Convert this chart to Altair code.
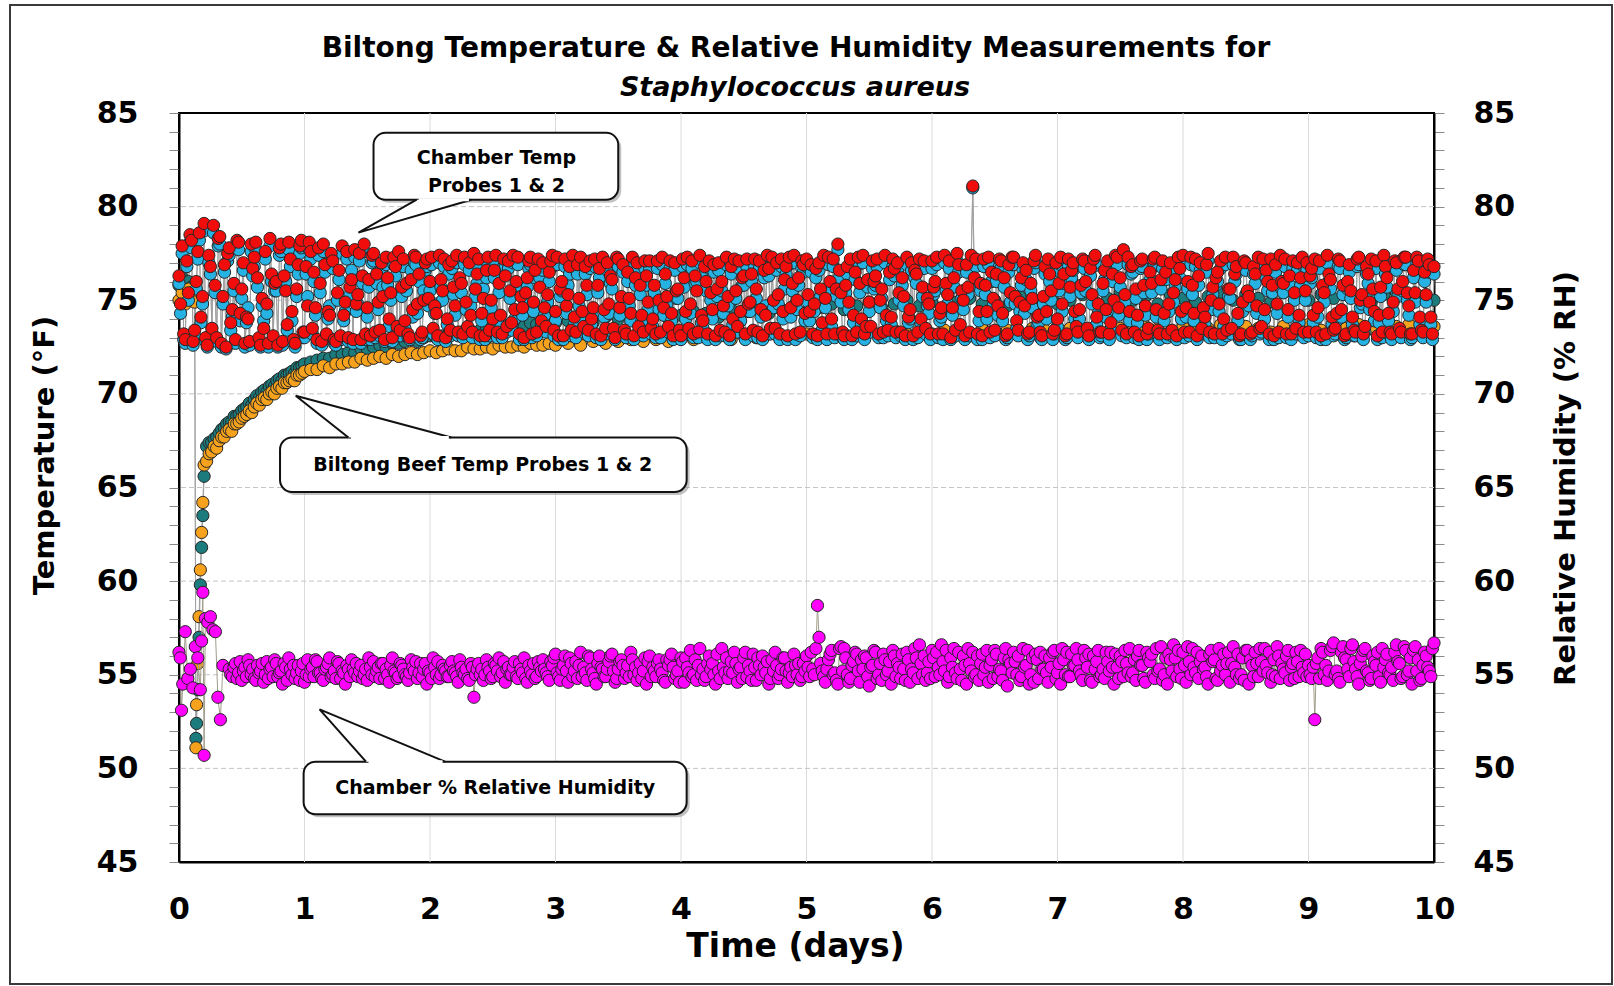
import altair as alt
import numpy as np
import pandas as pd

FONT = "DejaVu Sans"

# ---------------- data ----------------
# Chamber temperature probes: readings every 0.0125 day.
# "_a" lists hold the readings at 0, 0.025, 0.05 ... ; "_b" lists the readings in between.
CHAMBER_STEP = 0.0125
chamber_probe2_red_a = [
    76.3, 77.9, 72.9, 75.4, 78.2, 73.4, 77.6, 74.1, 79.1, 72.6,
    76.8, 79.0, 73.0, 78.4, 75.2, 72.5, 77.8, 74.5, 72.9, 78.1,
    75.6, 72.7, 74.0, 78.0, 77.3, 76.2, 72.6, 73.5, 74.8, 78.3,
    73.1, 76.0, 77.8, 72.8, 75.5, 78.1, 74.4, 72.7, 76.9, 78.2,
    73.3, 74.7, 77.6, 76.5, 72.9, 75.9, 78.0, 73.2, 74.2, 77.1,
    72.8, 76.6, 77.9, 74.9, 73.0, 76.1, 77.7, 75.3, 72.9, 78.0,
    74.6, 73.1, 77.5, 76.4, 73.4, 75.2, 77.3, 74.0, 73.0, 76.8,
    77.6, 75.7, 73.9, 73.2, 76.1, 77.4, 74.8, 73.1, 75.0, 77.2,
    76.0, 73.5, 74.3, 77.4, 75.5, 73.0, 76.9, 77.1, 74.7, 73.3,
    75.9, 77.3, 73.6, 74.2, 77.5, 76.4, 73.1, 75.1, 76.6, 73.4,
    74.0, 77.4, 75.9, 73.2, 76.3, 77.1, 73.8, 74.5, 77.3, 75.2,
    73.0, 76.2, 77.3, 74.9, 73.3, 75.7, 77.0, 73.6, 76.5, 77.4,
    74.4, 73.1, 76.0, 77.2, 75.3, 73.4, 74.1, 76.9, 77.3, 73.6,
    75.8, 77.1, 74.6, 73.2, 76.7, 77.3, 73.5, 74.8, 76.1, 73.0,
    77.2, 75.2, 73.4, 76.5, 74.3, 73.1, 77.0, 75.8, 73.3, 76.3,
    77.1, 74.0, 73.2, 75.0, 77.3, 76.4, 73.6, 74.3, 77.0, 75.6,
    73.1, 76.2, 77.3, 74.8, 73.2, 75.5, 77.4, 73.9, 76.0, 77.1,
    74.5, 73.1, 77.0, 76.0, 73.3, 75.2, 76.8, 77.2, 73.6, 74.4,
    76.3, 77.2, 74.9, 73.4, 75.6, 77.1, 73.1, 74.2, 76.7, 77.3,
    73.5, 75.3, 77.2, 76.1, 73.1, 74.6, 77.4, 75.0, 73.3, 76.9,
    77.2, 74.4, 73.2, 76.7, 77.0, 73.8, 75.1, 77.3, 74.0, 73.2,
    78.0, 75.4, 73.1, 76.8, 77.2, 74.2, 73.3, 75.9, 77.4, 73.6,
    74.9, 77.1, 76.3, 73.2, 75.6, 77.4, 73.4, 74.1, 76.7, 77.0,
    73.3, 75.2, 77.3, 74.5, 73.1, 76.4, 77.2, 75.7, 73.5, 74.8,
    77.1, 76.0, 73.2, 74.6, 77.4, 75.3, 73.0, 76.2, 77.5, 73.7,
    75.0, 76.9, 73.3, 81.1, 77.2, 74.4, 73.1, 75.8, 77.3, 76.5,
    73.4, 74.7, 77.1, 76.2, 73.2, 75.4, 77.3, 73.9, 74.9, 77.0,
    76.6, 73.3, 75.1, 77.4, 74.2, 73.1, 76.8, 77.2, 75.5, 73.4,
    74.0, 77.3, 76.4, 73.2, 75.7, 77.0, 73.6, 74.5, 77.2, 76.0,
    73.1, 75.3, 77.4, 74.8, 73.3, 76.6, 77.1, 73.8, 75.0, 77.3,
    76.2, 77.7, 73.2, 74.4, 76.9, 75.6, 73.1, 77.2, 74.7, 73.5,
    75.9, 77.3, 73.4, 76.1, 74.3, 73.2, 77.0, 75.4, 73.1, 76.7,
    77.4, 74.6, 73.3, 75.8, 77.2, 76.3, 73.5, 74.1, 77.5, 75.0,
    73.2, 76.5, 77.1, 74.0, 73.4, 75.6, 77.3, 76.8, 73.1, 74.9,
    77.0, 75.2, 73.3, 76.4, 77.3, 73.6, 74.5, 76.0, 77.2, 73.1,
    74.8, 77.4, 75.9, 73.2, 76.3, 77.1, 73.5, 74.2, 77.3, 75.5,
    73.3, 76.7, 77.2, 74.6, 73.1, 75.4, 77.4, 76.1, 73.4, 74.3,
    77.1, 75.8, 73.2, 76.9, 74.1, 73.3, 77.3, 75.3, 73.6, 76.4,
    77.2, 74.4, 73.1, 75.7, 77.4, 76.2, 73.3, 74.9, 77.0, 73.5,
    76.0, 77.3, 74.7, 73.2, 75.4, 77.1, 73.4, 76.5, 77.2, 74.1,
    76.8,
]
chamber_probe2_red_b = [
    74.8, 73.2, 77.1, 78.5, 72.8, 76.0, 78.6, 75.2, 73.0, 77.4,
    73.5, 75.8, 78.3, 72.7, 76.9, 77.5, 73.8, 75.9, 78.2, 74.3,
    77.0, 74.1, 72.8, 76.7, 78.1, 73.0, 75.1, 77.6, 72.7, 76.4,
    75.9, 72.6, 78.0, 76.3, 73.7, 77.2, 72.9, 75.6, 77.9, 73.3,
    76.8, 78.1, 73.5, 74.6, 77.8, 72.8, 76.9, 74.4, 77.5, 72.9,
    75.4, 73.1, 74.2, 77.6, 75.7, 72.9, 74.8, 77.5, 76.3, 73.2,
    76.1, 77.4, 73.3, 74.9, 77.0, 72.9, 76.2, 75.4, 77.3, 73.6,
    73.4, 77.2, 75.9, 73.0, 74.5, 77.3, 76.4, 73.3, 77.0, 75.1,
    77.3, 74.7, 73.1, 76.1, 77.2, 74.0, 73.4, 75.7, 77.4, 76.2,
    73.2, 74.9, 77.0, 73.3, 75.6, 77.2, 74.3, 73.1, 77.3, 75.0,
    76.6, 73.3, 74.2, 77.2, 73.6, 75.5, 77.4, 76.0, 73.2, 74.6,
    75.4, 77.1, 73.2, 76.6, 77.2, 73.9, 74.6, 75.3, 77.1, 73.4,
    77.3, 75.6, 73.1, 74.7, 76.8, 77.4, 73.3, 75.1, 74.4, 76.8,
    73.4, 74.0, 77.2, 75.8, 73.1, 74.5, 77.0, 76.3, 73.5, 77.3,
    74.6, 76.9, 73.2, 75.1, 77.3, 76.2, 73.6, 74.2, 77.1, 74.9,
    73.5, 75.8, 77.1, 73.3, 74.6, 75.2, 77.1, 73.1, 75.5, 73.4,
    77.2, 74.4, 73.5, 77.1, 76.3, 73.3, 74.2, 76.8, 73.2, 75.4,
    76.9, 75.6, 73.4, 74.7, 77.3, 73.1, 74.0, 75.5, 77.1, 76.2,
    73.2, 74.8, 76.4, 77.2, 73.3, 74.5, 76.6, 77.4, 73.5, 75.0,
    77.0, 73.2, 74.4, 76.8, 77.3, 75.9, 73.2, 76.2, 77.1, 74.3,
    75.3, 76.9, 74.8, 73.1, 75.6, 77.4, 73.2, 76.0, 77.2, 75.6,
    76.6, 73.3, 75.8, 74.9, 73.1, 76.5, 77.3, 74.0, 73.2, 76.1,
    73.6, 76.0, 77.2, 75.0, 73.3, 74.2, 76.5, 77.2, 73.3, 75.4,
    76.2, 73.1, 74.1, 77.0, 76.6, 73.3, 74.0, 77.1, 75.1, 73.2,
    75.7, 77.3, 74.3, 73.2, 75.9, 77.1, 74.6, 73.4, 76.9, 75.5,
    73.1, 75.7, 77.4, 76.2, 73.2, 75.9, 77.2, 74.4, 73.3, 75.1,
    76.4, 77.2, 74.3, 73.1, 76.9, 77.3, 75.2, 73.4, 76.2, 74.7,
    73.2, 75.9, 77.1, 74.1, 73.3, 75.2, 74.4, 76.4, 73.2, 77.0,
    75.9, 74.8, 73.1, 77.2, 76.6, 74.4, 73.3, 75.8, 77.1, 73.5,
    76.7, 77.2, 74.1, 73.3, 75.9, 74.5, 73.2, 76.4, 77.4, 74.6,
    73.4, 75.3, 77.3, 76.8, 73.3, 74.2, 77.1, 75.8, 73.2, 76.5,
    77.2, 74.5, 73.2, 77.1, 76.5, 74.8, 73.4, 76.1, 77.3, 74.4,
    73.3, 76.0, 77.3, 74.3, 73.1, 77.0, 74.6, 76.9, 73.3, 75.7,
    76.2, 74.8, 73.2, 77.3, 75.6, 73.5, 76.4, 74.3, 73.2, 77.1,
    75.5, 73.2, 76.8, 74.7, 73.5, 77.2, 76.6, 73.2, 75.8, 76.9,
    73.3, 76.0, 77.2, 74.5, 73.2, 75.4, 77.0, 76.2, 73.3, 77.0,
    76.3, 74.2, 73.3, 77.1, 75.8, 73.2, 76.4, 74.1, 73.5, 77.2,
    74.5, 73.1, 76.0, 75.5, 73.4, 77.2, 75.0, 73.2, 76.8, 74.9,
    75.6, 77.1, 74.2, 73.3, 76.8, 74.3, 73.2, 77.1, 75.6, 73.3,
    77.3, 75.4, 73.2, 76.6, 77.3, 74.1, 73.3, 75.3, 76.9, 73.2,
]
chamber_probe1_blue_a = [
    75.9, 77.5, 72.7, 75.0, 77.8, 73.1, 77.2, 73.8, 78.7, 72.5,
    76.4, 78.6, 72.8, 78.0, 74.8, 72.4, 77.4, 74.1, 72.7, 77.7,
    75.1, 72.5, 74.6, 77.6, 76.8, 75.7, 72.5, 73.9, 74.3, 77.9,
    72.9, 75.5, 77.4, 72.6, 76.0, 77.7, 73.9, 72.5, 76.4, 77.8,
    73.0, 75.2, 77.2, 76.0, 72.7, 75.4, 77.6, 73.0, 74.7, 76.7,
    72.6, 76.1, 77.5, 74.4, 72.8, 76.6, 77.3, 74.8, 72.7, 77.6,
    74.1, 72.9, 77.1, 75.9, 73.1, 75.7, 76.9, 73.6, 72.8, 76.3,
    77.2, 75.2, 73.5, 73.0, 76.6, 77.0, 74.3, 72.9, 75.5, 76.8,
    75.5, 73.2, 74.8, 77.0, 75.0, 72.8, 76.4, 76.7, 74.2, 73.1,
    75.4, 76.9, 73.3, 74.7, 77.1, 75.9, 72.9, 75.6, 76.2, 73.1,
    73.6, 77.0, 75.4, 73.0, 76.8, 76.7, 73.4, 74.0, 76.9, 75.7,
    72.9, 75.7, 76.9, 74.4, 73.1, 76.2, 76.6, 73.3, 76.0, 77.0,
    73.9, 72.9, 75.5, 76.8, 75.8, 73.1, 73.7, 76.4, 76.9, 73.3,
    75.3, 76.7, 74.1, 73.0, 76.2, 76.9, 73.2, 74.3, 75.6, 72.9,
    76.8, 74.7, 73.1, 76.0, 73.9, 72.9, 76.6, 75.3, 73.1, 75.8,
    76.7, 73.6, 73.0, 74.5, 76.9, 75.9, 73.3, 73.9, 76.6, 75.1,
    72.9, 75.7, 76.9, 74.3, 73.0, 76.0, 77.0, 73.5, 75.5, 76.7,
    74.0, 72.9, 76.6, 75.5, 73.1, 74.7, 76.4, 76.8, 73.3, 73.9,
    75.8, 76.8, 74.4, 73.1, 75.1, 76.7, 72.9, 74.7, 76.3, 76.9,
    73.2, 74.8, 76.8, 75.6, 72.9, 74.1, 77.0, 74.5, 73.1, 76.5,
    76.8, 73.9, 73.0, 76.2, 76.6, 73.4, 74.6, 76.9, 73.6, 73.0,
    77.7, 74.9, 72.9, 76.4, 76.8, 73.8, 73.1, 75.4, 77.0, 73.3,
    74.4, 76.7, 75.8, 73.0, 75.1, 77.0, 73.1, 73.7, 76.3, 76.6,
    73.1, 74.7, 76.9, 74.0, 72.9, 75.9, 76.8, 75.2, 73.2, 74.3,
    76.7, 75.5, 73.0, 74.1, 77.0, 74.8, 72.9, 75.7, 77.1, 73.4,
    74.5, 76.5, 73.1, 81.0, 76.8, 73.9, 72.9, 75.3, 76.9, 76.0,
    73.1, 74.2, 76.7, 75.7, 73.0, 74.9, 76.9, 73.5, 74.4, 76.6,
    76.1, 73.1, 74.6, 77.0, 73.8, 72.9, 76.4, 76.8, 75.0, 73.2,
    73.6, 76.9, 75.9, 73.0, 75.2, 76.6, 73.3, 74.0, 76.8, 75.5,
    72.9, 74.8, 77.0, 74.3, 73.1, 76.1, 76.7, 73.4, 74.5, 76.9,
    75.7, 77.4, 73.0, 73.9, 76.5, 75.1, 72.9, 76.8, 74.2, 73.2,
    75.4, 76.9, 73.1, 75.6, 73.9, 73.0, 76.6, 74.9, 72.9, 76.2,
    77.0, 74.1, 73.1, 75.3, 76.8, 75.8, 73.2, 73.7, 77.1, 74.5,
    73.0, 76.0, 76.7, 73.6, 73.1, 75.1, 76.9, 76.4, 72.9, 74.4,
    76.6, 74.7, 73.1, 75.9, 76.9, 73.3, 74.0, 75.5, 76.8, 72.9,
    74.3, 77.0, 75.4, 73.0, 75.8, 76.7, 73.2, 73.8, 76.9, 75.0,
    73.1, 76.2, 76.8, 74.1, 72.9, 74.9, 77.0, 75.6, 73.1, 73.9,
    76.7, 75.3, 73.0, 76.5, 73.7, 73.1, 76.9, 74.8, 73.3, 75.9,
    76.8, 73.9, 72.9, 75.2, 77.0, 75.7, 73.1, 74.4, 76.6, 73.2,
    75.5, 76.9, 74.2, 73.0, 74.9, 76.7, 73.1, 76.0, 76.8, 73.7,
    76.4,
]
chamber_probe1_blue_b = [
    74.3, 72.9, 76.8, 78.1, 72.6, 75.6, 78.2, 74.8, 72.8, 77.0,
    73.2, 75.4, 77.9, 72.5, 76.5, 77.1, 73.4, 75.5, 77.8, 73.9,
    76.6, 73.8, 72.6, 76.3, 77.7, 72.8, 74.7, 77.2, 72.5, 76.0,
    75.5, 72.5, 77.6, 75.9, 73.4, 76.8, 72.7, 75.2, 77.5, 73.0,
    76.4, 77.7, 73.2, 74.2, 77.4, 72.6, 76.5, 74.0, 77.1, 72.7,
    75.0, 72.9, 73.9, 77.2, 75.3, 72.7, 74.4, 77.1, 75.9, 72.9,
    75.7, 77.0, 73.0, 74.5, 76.6, 72.8, 75.8, 75.0, 76.9, 73.3,
    73.1, 76.8, 75.5, 72.9, 74.1, 76.9, 76.0, 73.0, 76.6, 74.7,
    76.9, 74.3, 72.9, 75.7, 76.8, 73.7, 73.1, 75.3, 77.0, 75.8,
    73.0, 74.5, 76.6, 73.0, 75.2, 76.8, 73.9, 72.9, 76.9, 74.6,
    76.2, 73.0, 73.8, 76.8, 73.3, 75.1, 77.0, 75.6, 72.9, 74.2,
    75.0, 76.7, 73.0, 76.2, 76.8, 73.6, 74.2, 74.9, 76.7, 73.1,
    76.9, 75.2, 72.9, 74.3, 76.4, 77.0, 73.0, 74.7, 74.0, 76.4,
    73.1, 73.7, 76.8, 75.4, 72.9, 74.1, 76.6, 75.9, 73.2, 76.9,
    74.2, 76.5, 73.0, 74.7, 76.9, 75.8, 73.3, 73.9, 76.7, 74.5,
    73.2, 75.4, 76.7, 73.0, 74.2, 74.8, 76.7, 72.9, 75.1, 73.1,
    76.8, 74.0, 73.2, 76.7, 75.9, 73.0, 73.8, 76.4, 72.9, 75.0,
    76.5, 75.2, 73.1, 74.3, 76.9, 72.9, 73.7, 75.1, 76.7, 75.8,
    72.9, 74.4, 76.0, 76.8, 73.0, 74.1, 76.2, 77.0, 73.2, 74.6,
    76.6, 72.9, 74.0, 76.4, 76.9, 75.5, 72.9, 75.8, 76.7, 73.9,
    74.9, 76.5, 74.4, 72.9, 75.2, 77.0, 72.9, 75.6, 76.8, 75.2,
    76.2, 73.0, 75.4, 74.5, 72.9, 76.1, 76.9, 73.7, 72.9, 75.7,
    73.3, 75.6, 76.8, 74.6, 73.0, 73.9, 76.1, 76.8, 73.0, 75.0,
    75.8, 72.9, 73.8, 76.6, 76.2, 73.0, 73.7, 76.7, 74.7, 72.9,
    75.3, 76.9, 73.9, 72.9, 75.5, 76.7, 74.2, 73.1, 76.5, 75.1,
    72.9, 75.3, 77.0, 75.8, 72.9, 75.5, 76.8, 74.0, 73.0, 74.7,
    76.0, 76.8, 73.9, 72.9, 76.5, 76.9, 74.8, 73.1, 75.8, 74.3,
    72.9, 75.5, 76.7, 73.7, 73.0, 74.8, 74.0, 76.0, 72.9, 76.6,
    75.5, 74.4, 72.9, 76.8, 76.2, 74.0, 73.0, 75.4, 76.7, 73.2,
    76.3, 76.8, 73.7, 73.0, 75.5, 74.1, 72.9, 76.0, 77.0, 74.2,
    73.1, 74.9, 76.9, 76.4, 73.0, 73.8, 76.7, 75.4, 72.9, 76.1,
    76.8, 74.1, 72.9, 76.7, 76.1, 74.4, 73.1, 75.7, 76.9, 74.0,
    73.0, 75.6, 76.9, 73.9, 72.9, 76.6, 74.2, 76.5, 73.0, 75.3,
    75.8, 74.4, 72.9, 76.9, 75.2, 73.2, 76.0, 73.9, 72.9, 76.7,
    75.1, 72.9, 76.4, 74.3, 73.2, 76.8, 76.2, 72.9, 75.4, 76.5,
    73.0, 75.6, 76.8, 74.1, 72.9, 75.0, 76.6, 75.8, 73.0, 76.6,
    75.9, 73.8, 73.0, 76.7, 75.4, 72.9, 76.0, 73.7, 73.2, 76.8,
    74.1, 72.9, 75.6, 75.1, 73.1, 76.8, 74.6, 72.9, 76.4, 74.5,
    75.2, 76.7, 73.8, 73.0, 76.4, 73.9, 72.9, 76.7, 75.2, 73.0,
    76.9, 75.0, 72.9, 76.2, 76.9, 73.7, 73.0, 74.9, 76.5, 72.9,
]

# Biltong beef probes: before insertion, the drop/rise, then three sampling spans
beef_pre_x = [0.0, 0.025, 0.05, 0.075, 0.1, 0.125]
beef_rise_x = [0.135, 0.14, 0.15, 0.16, 0.17, 0.18, 0.19, 0.20]
beef_c_start, beef_c_step = 0.22, 0.02
beef_d_start, beef_d_step = 1.05, 0.05
beef_e_start, beef_e_step = 3.1, 0.1

beef1_teal_pre = [75.8, 76.2, 75.5, 76.0, 75.7, 75.4]
beef1_teal_rise = [51.6, 52.4, 54.2, 57.0, 59.8, 61.8, 63.5, 65.6]
beef1_teal_c = [67.2, 67.4, 67.4, 67.6, 67.7, 67.9, 68.1, 68.2, 68.4, 68.5,
                68.5, 68.8, 68.8, 68.9, 69.1, 69.2, 69.3, 69.5, 69.4, 69.7,
                69.9, 69.8, 70.1, 70.2, 70.1, 70.4, 70.5, 70.4, 70.7, 70.8,
                70.7, 71.0, 71.0, 71.1, 71.2, 71.1, 71.4, 71.4, 71.5, 71.6]
beef1_teal_d = [71.7, 71.8, 71.9, 71.9, 72.1, 72.1, 72.2, 72.2, 72.4, 72.4,
                72.5, 72.6, 72.5, 72.7, 72.7, 72.8, 72.9, 72.8, 73.0, 73.1,
                73.0, 73.1, 73.2, 73.2, 73.3, 73.4, 73.3, 73.4, 73.5, 73.4,
                73.6, 73.5, 73.6, 73.7, 73.6, 73.8, 73.7, 73.8, 73.9, 73.8]
beef1_teal_e = [73.9, 74.0, 73.8, 74.1, 74.0, 74.2, 74.1, 74.3, 74.0, 74.2,
                74.4, 74.3, 74.1, 74.5, 74.4, 74.6, 74.3, 74.5, 74.7, 74.4,
                74.6, 74.8, 74.5, 74.7, 74.9, 74.6, 74.8, 75.0, 74.7, 74.9,
                74.6, 74.9, 75.1, 74.8, 75.0, 74.7, 75.2, 74.9, 75.1, 74.8,
                75.0, 75.3, 74.9, 75.1, 75.4, 75.0, 75.2, 74.8, 75.3, 75.1,
                74.9, 75.2, 75.4, 75.0, 75.3, 75.1, 74.9, 75.4, 75.2, 75.0,
                75.3, 75.1, 75.5, 75.2, 74.9, 75.3, 75.4, 75.1, 75.2, 75.0]

beef2_orange_pre = [75.0, 75.4, 74.8, 75.6, 75.2, 74.9]
beef2_orange_rise = [51.1, 53.4, 55.6, 58.1, 60.6, 62.6, 64.2, 66.2]
beef2_orange_c = [66.4, 66.8, 66.9, 67.2, 67.1, 67.5, 67.7, 67.7, 68.0, 68.1,
                  68.0, 68.4, 68.4, 68.5, 68.7, 68.8, 68.9, 69.1, 69.0, 69.3,
                  69.5, 69.4, 69.7, 69.8, 69.7, 70.0, 70.1, 70.0, 70.3, 70.4,
                  70.3, 70.6, 70.6, 70.7, 70.8, 70.7, 71.0, 71.0, 71.1, 71.2]
beef2_orange_d = [71.3, 71.3, 71.5, 71.4, 71.6, 71.6, 71.7, 71.7, 71.9, 71.8,
                  71.9, 72.0, 71.9, 72.1, 72.0, 72.1, 72.2, 72.1, 72.2, 72.3,
                  72.2, 72.3, 72.4, 72.3, 72.3, 72.5, 72.4, 72.4, 72.5, 72.4,
                  72.6, 72.5, 72.5, 72.6, 72.5, 72.7, 72.6, 72.6, 72.7, 72.6]
beef2_orange_e = [72.7, 72.6, 72.8, 72.7, 72.8, 72.9, 72.8, 72.9, 72.8, 73.0,
                  72.9, 73.0, 73.1, 72.9, 73.1, 73.0, 73.2, 73.1, 73.0, 73.2,
                  73.1, 73.3, 73.2, 73.1, 73.3, 73.2, 73.4, 73.2, 73.3, 73.2,
                  73.4, 73.3, 73.2, 73.5, 73.3, 73.4, 73.2, 73.5, 73.4, 73.3,
                  73.5, 73.4, 73.6, 73.3, 73.5, 73.4, 73.6, 73.5, 73.3, 73.6,
                  73.4, 73.5, 73.7, 73.4, 73.6, 73.5, 73.3, 73.6, 73.5, 73.7,
                  73.4, 73.6, 73.5, 73.7, 73.5, 73.4, 73.6, 73.7, 73.5, 73.6]

# Chamber relative humidity
rh_early_x = [0.00, 0.01, 0.02, 0.03, 0.05, 0.07, 0.09, 0.11, 0.13, 0.15, 0.17,
              0.18, 0.19, 0.20, 0.21, 0.23, 0.25, 0.27, 0.29, 0.31, 0.33, 0.35]
rh_early = [56.2, 55.9, 53.1, 54.5, 57.3, 54.8, 55.3, 54.3, 56.5, 55.9, 54.2,
            56.8, 59.4, 50.7, 58.0, 57.8, 58.1, 57.4, 57.3, 53.8, 52.6, 55.5]
# from day 0.4: readings every 0.0125 day ("_a" at 0.4, 0.425 ... ; "_b" in between)
rh_start, rh_step = 0.4, 0.0125
rh_main_a = [
    55.3, 54.9, 55.6, 55.1, 54.7, 55.4, 55.8, 55.0, 54.8, 55.5,
    55.2, 54.6, 55.7, 55.3, 54.9, 55.6, 55.1, 54.5, 55.4, 55.9,
    55.0, 54.8, 55.5, 55.2, 54.6, 55.8, 55.3, 54.9, 55.7, 55.1,
    54.7, 55.4, 55.9, 55.0, 54.8, 55.6, 55.2, 54.5, 55.3, 55.8,
    55.1, 54.9, 55.5, 55.0, 54.7, 55.4, 55.7, 55.2, 54.8, 55.6,
    55.3, 54.6, 55.9, 55.1, 54.9, 55.5, 55.0, 54.7, 55.8, 55.2,
    54.8, 55.6, 55.3, 54.5, 55.1, 55.9, 55.0, 54.8, 55.5, 55.2,
    54.9, 55.7, 55.1, 54.6, 55.4, 55.0, 54.8, 55.6, 53.8, 55.3,
    55.0, 54.7, 55.8, 55.2, 54.9, 55.5, 55.9, 55.1, 54.6, 55.4,
    55.0, 55.7, 54.8, 55.3, 55.9, 54.6, 55.2, 55.6, 54.9, 55.4,
    55.8, 55.1, 54.7, 55.5, 56.1, 54.9, 55.3, 56.0, 54.6, 55.6,
    55.2, 54.8, 56.2, 55.4, 54.7, 55.9, 55.1, 54.5, 56.0, 55.3,
    54.9, 55.7, 56.1, 54.6, 55.3, 55.8, 54.8, 55.5, 56.2, 55.0,
    54.7, 55.6, 55.2, 54.5, 56.0, 55.4, 54.9, 55.8, 55.1, 54.6,
    55.5, 56.1, 54.8, 55.2, 55.9, 54.6, 55.4, 56.3, 55.0, 54.7,
    56.4, 55.3, 54.9, 56.0, 55.6, 54.5, 55.2, 56.4, 55.1, 54.8,
    55.7, 56.2, 54.6, 55.4, 55.9, 54.9, 55.2, 56.1, 54.7, 55.5,
    56.0, 55.1, 54.5, 55.8, 56.2, 54.8, 55.3, 55.9, 54.6, 55.4,
    56.1, 55.0, 54.7, 55.6, 56.0, 54.9, 55.3, 56.4, 57.0, 55.2,
    54.6, 55.8, 56.3, 55.1, 54.5, 56.5, 56.4, 55.0, 54.8, 55.7,
    56.1, 54.6, 55.3, 55.9, 54.4, 55.5, 56.2, 55.0, 54.7, 55.8,
    55.2, 54.5, 56.0, 55.6, 54.8, 55.3, 56.2, 54.6, 55.1, 55.9,
    56.6, 55.0, 54.7, 55.7, 56.3, 54.9, 55.4, 56.6, 55.2, 54.6,
    55.9, 56.4, 54.8, 55.3, 56.0, 54.5, 55.6, 56.2, 55.0, 54.7,
    56.1, 55.4, 54.6, 55.8, 56.3, 54.9, 55.2, 55.9, 54.4, 55.6,
    56.2, 55.0, 54.7, 56.4, 55.5, 54.5, 55.9, 56.1, 54.8, 55.3,
    56.0, 54.6, 55.4, 56.3, 55.1, 54.5, 55.8, 56.2, 54.9, 55.5,
    56.4, 55.2, 54.7, 55.9, 56.1, 54.6, 55.3, 56.3, 55.0, 54.8,
    55.7, 56.2, 54.5, 55.4, 56.0, 54.9, 55.6, 56.4, 55.1, 54.7,
    56.3, 55.5, 54.6, 55.9, 56.1, 54.8, 55.2, 56.5, 55.0, 54.5,
    55.8, 56.6, 54.9, 55.3, 56.2, 54.6, 55.7, 56.4, 55.1, 54.8,
    56.0, 55.4, 54.5, 56.3, 55.8, 54.7, 55.2, 56.1, 55.6, 54.6,
    56.5, 55.0, 54.8, 55.9, 56.3, 54.5, 55.5, 56.2, 54.9, 55.7,
    56.4, 55.1, 54.6, 55.8, 56.5, 54.8, 55.3, 56.0, 54.7, 55.6,
    56.2, 54.9, 55.4, 56.1, 55.5, 54.8, 52.6, 55.9, 56.4, 55.0,
    54.7, 56.3, 56.7, 55.2, 54.6, 56.5, 55.8, 54.9, 56.6, 55.3,
    54.5, 56.0, 56.4, 55.1, 54.8, 55.7, 56.2, 54.6, 55.4, 56.1,
    55.0, 54.7, 56.6, 55.6, 54.9, 56.3, 55.2, 54.5, 56.5, 55.8,
    54.8, 56.2, 55.4, 54.9, 56.7,
]
rh_main_b = [
    55.0, 55.4, 54.8, 55.7, 55.2, 54.9, 55.5, 55.3, 54.7, 55.1,
    55.6, 55.0, 54.8, 55.4, 55.8, 54.9, 55.2, 55.6, 54.7, 55.3,
    55.5, 55.1, 54.7, 55.6, 55.0, 54.9, 55.4, 55.8, 55.1, 54.8,
    55.3, 55.6, 54.9, 55.2, 55.7, 54.8, 55.1, 55.5, 54.9, 55.3,
    55.6, 55.2, 54.8, 55.3, 55.9, 55.0, 54.9, 55.4, 55.6, 54.8,
    55.0, 55.5, 55.2, 54.8, 55.6, 55.3, 54.9, 55.1, 55.4, 55.7,
    55.1, 54.9, 55.6, 55.2, 54.8, 55.4, 55.7, 55.0, 55.3, 54.9,
    55.5, 55.2, 54.9, 55.8, 55.1, 55.3, 54.7, 55.4, 55.0, 55.6,
    55.3, 55.0, 55.4, 54.8, 55.6, 55.2, 54.9, 55.7, 55.3, 55.0,
    55.4, 54.9, 55.6, 55.1, 54.8, 55.5, 55.0, 54.8, 55.7, 55.2,
    55.3, 54.9, 55.7, 55.9, 55.1, 54.7, 55.5, 55.2, 55.9, 54.9,
    55.7, 55.5, 54.9, 55.1, 56.0, 55.3, 54.8, 55.6, 55.4, 54.9,
    55.3, 56.0, 55.2, 54.8, 55.7, 55.5, 55.1, 54.9, 55.8, 55.4,
    55.1, 54.8, 55.9, 55.7, 54.9, 55.2, 55.6, 55.3, 54.7, 55.8,
    55.8, 55.4, 55.0, 54.6, 55.7, 55.9, 55.1, 54.9, 55.8, 55.5,
    55.0, 54.7, 55.6, 55.3, 55.0, 56.1, 54.8, 55.4, 55.9, 55.2,
    55.1, 55.6, 55.3, 54.8, 56.2, 55.5, 54.7, 55.4, 55.9, 55.0,
    55.4, 55.7, 54.8, 55.2, 55.5, 55.0, 55.9, 55.2, 55.1, 54.9,
    55.5, 55.6, 54.9, 55.2, 55.4, 56.2, 55.0, 58.7, 55.6, 54.9,
    55.3, 56.1, 55.0, 54.7, 56.4, 55.2, 55.9, 54.6, 55.5, 56.2,
    55.2, 55.8, 56.0, 54.9, 55.4, 56.3, 54.8, 55.6, 56.1, 55.0,
    55.7, 56.3, 54.9, 55.4, 56.1, 54.7, 55.8, 55.3, 56.4, 54.8,
    55.6, 56.0, 55.1, 54.8, 55.9, 56.2, 55.0, 55.7, 56.3, 54.9,
    55.4, 55.1, 56.2, 54.7, 55.5, 56.4, 55.2, 54.9, 56.0, 55.6,
    55.0, 56.3, 55.5, 54.8, 56.1, 55.3, 54.7, 56.4, 55.8, 55.1,
    55.7, 56.0, 54.9, 55.4, 56.3, 55.0, 54.6, 55.8, 56.2, 55.3,
    55.1, 55.9, 56.2, 54.8, 55.6, 56.4, 55.0, 54.9, 56.1, 55.5,
    55.8, 55.0, 56.3, 55.4, 54.7, 56.0, 55.7, 54.9, 55.3, 56.2,
    55.2, 55.4, 56.1, 54.8, 55.7, 56.3, 55.1, 54.9, 55.8, 56.0,
    55.5, 54.8, 56.2, 55.7, 55.0, 56.4, 55.3, 54.7, 55.9, 56.1,
    55.2, 55.9, 56.3, 54.8, 55.5, 56.5, 55.0, 55.4, 56.2, 55.7,
    55.3, 54.9, 56.1, 55.7, 54.8, 56.4, 55.5, 55.0, 56.2, 55.6,
    55.4, 56.1, 55.0, 54.7, 56.3, 55.8, 54.9, 55.6, 56.4, 55.2,
    55.5, 56.2, 55.0, 54.9, 56.0, 55.6, 55.1, 56.3, 55.4, 54.8,
    55.7, 56.3, 55.1, 54.9, 55.0, 55.4, 55.6, 54.8, 56.2, 55.5,
    55.2, 56.5, 55.0, 54.8, 56.2, 55.9, 55.3, 56.4, 55.7, 54.9,
    55.6, 56.3, 55.2, 54.7, 56.0, 55.5, 54.9, 56.4, 55.8, 55.1,
    55.4, 56.2, 55.7, 54.8, 56.5, 55.0, 55.9, 56.3, 55.2, 54.7,
    55.5, 56.0, 55.2, 56.4,
]

SERIES = ["Beef Probe 1", "Beef Probe 2", "Chamber Probe 1", "Chamber Probe 2"]
COLORS = ["#1c7b7c", "#f6a21c", "#26b3e3", "#f20d0d"]

# callouts (data coordinates: days, deg F)
callout_boxes = pd.DataFrame({
    "x1": [1.55, 0.805, 0.993], "x2": [3.50, 4.045, 4.045],
    "y1": [80.37, 64.76, 47.55], "y2": [83.94, 67.67, 50.36],
})
callout_text = pd.DataFrame({
    "x": [2.53, 2.53, 2.42, 2.52],
    "y": [82.58, 81.12, 66.2, 48.93],
    "t": ["Chamber Temp", "Probes 1 & 2", "Biltong Beef Temp Probes 1 & 2",
          "Chamber % Relative Humidity"],
})
pointer_pts = pd.DataFrame({
    "c": ["a", "a", "a", "b", "b", "b", "c", "c", "c"],
    "o": [0, 1, 2, 0, 1, 2, 0, 1, 2],
    "x": [1.894, 1.43, 2.33, 1.35, 0.93, 2.17, 1.49, 1.12, 2.12],
    "y": [80.37, 78.61, 80.37, 67.67, 69.9, 67.67, 50.36, 53.15, 50.36],
})
pointer_gap = pd.DataFrame({
    "x": [1.91, 1.37, 1.51], "x2": [2.31, 2.15, 2.10], "y": [80.37, 67.67, 50.36],
})

# ---------------- build tables ----------------
def interleave(a, b):
    out = []
    for i in range(len(a)):
        out.append(a[i])
        if i < len(b):
            out.append(b[i])
    return out

def rows(name, xs, ys):
    return pd.DataFrame({"x": np.round(np.asarray(xs, dtype=float), 4),
                         "y": ys, "series": name, "idx": np.arange(len(ys))})

def grid(start, step, vals):
    return [start + step * i for i in range(len(vals))]

def beef_rows(name, pre, rise, c, d, e):
    xs = (beef_pre_x + beef_rise_x + grid(beef_c_start, beef_c_step, c)
          + grid(beef_d_start, beef_d_step, d) + grid(beef_e_start, beef_e_step, e))
    ys = pre + rise + c + d + e
    return rows(name, xs, ys)

blue = interleave(chamber_probe1_blue_a, chamber_probe1_blue_b)
red = interleave(chamber_probe2_red_a, chamber_probe2_red_b)

temp_df = pd.concat([
    beef_rows("Beef Probe 1", beef1_teal_pre, beef1_teal_rise, beef1_teal_c, beef1_teal_d, beef1_teal_e),
    beef_rows("Beef Probe 2", beef2_orange_pre, beef2_orange_rise, beef2_orange_c, beef2_orange_d, beef2_orange_e),
    rows("Chamber Probe 1", grid(0.0, CHAMBER_STEP, blue), blue),
    rows("Chamber Probe 2", grid(0.0, CHAMBER_STEP, red), red),
], ignore_index=True)

rh_main = interleave(rh_main_a, rh_main_b)
rh_df = rows("RH", rh_early_x + grid(rh_start, rh_step, rh_main), rh_early + rh_main)

# ---------------- scales & axes ----------------
xscale = alt.Scale(domain=[0, 10], nice=False, zero=False)
yscale = alt.Scale(domain=[45, 85], nice=False, zero=False)

x_axis = alt.Axis(values=list(range(0, 11)), grid=False, ticks=False, tickSize=0,
                  domainColor="black", domainWidth=2,
                  labelFont=FONT, labelFontSize=30, labelFontWeight="bold", labelColor="black",
                  labelPadding=32, labelFlush=False, labelOverlap=False,
                  title="Time (days)", titleFont=FONT, titleFontSize=33,
                  titleFontWeight="bold", titleColor="black",
                  titleX=616, titleY=84, titleAlign="center", titleBaseline="middle")

def y_axis(orient, title, pad, tx, ty):
    return alt.Axis(orient=orient, values=list(range(45, 86)),
                    labelExpr="datum.value % 5 == 0 ? datum.label : ''",
                    grid=False, tickSize=10, tickColor="#8a8a8a", tickWidth=1,
                    domainColor="black", domainWidth=2,
                    labelFont=FONT, labelFontSize=30, labelFontWeight="bold",
                    labelColor="black", labelPadding=pad, labelFlush=False,
                    labelOverlap=False,
                    title=title, titleFont=FONT, titleFontSize=29, titleFontWeight="bold",
                    titleColor="black", titleAngle=270, titleX=tx, titleY=ty,
                    titleAlign="center", titleBaseline="middle")

yl = y_axis("left", "Temperature (°F)", 31, -135, 342)
yr = y_axis("right", "Relative Humidity (% RH)", 29, 131, 365)

def X(f):
    return alt.X(f, scale=xscale, axis=x_axis)

def YL(f):
    return alt.Y(f, scale=yscale, axis=yl)

def YR(f):
    return alt.Y(f, scale=yscale, axis=yr)

# ---------------- layers ----------------
vgrid = alt.Chart(pd.DataFrame({"x": list(range(1, 10))})).mark_rule(
    color="#dadada", strokeWidth=1).encode(x=X("x:Q"))
hgrid = alt.Chart(pd.DataFrame({"y": list(range(50, 85, 5))})).mark_rule(
    color="#c4c4c4", strokeWidth=1, strokeDash=[5, 3]).encode(y=YL("y:Q"))

outer = alt.Chart(pd.DataFrame({"a": [0]})).mark_rect(
    filled=False, stroke="#3a3a3a", strokeWidth=2).encode(
    x=alt.value(-169), x2=alt.value(1433), y=alt.value(-108), y2=alt.value(871))

shadow = alt.Chart(callout_boxes).mark_rect(
    cornerRadius=12, fill="#9a9a9a", opacity=0.6, xOffset=3, x2Offset=3, yOffset=3, y2Offset=3
).encode(x=X("x1:Q"), x2="x2:Q", y=YL("y1:Q"), y2="y2:Q")
boxes = alt.Chart(callout_boxes).mark_rect(
    cornerRadius=12, fill="white", stroke="#111111", strokeWidth=2
).encode(x=X("x1:Q"), x2="x2:Q", y=YL("y1:Q"), y2="y2:Q")
pointers = alt.Chart(pointer_pts).mark_line(
    stroke="#111111", strokeWidth=2, fill="white"
).encode(x=X("x:Q"), y=YL("y:Q"), detail="c:N", order="o:Q")
gaps = alt.Chart(pointer_gap).mark_rule(color="white", strokeWidth=3).encode(
    x=X("x:Q"), x2="x2:Q", y=YL("y:Q"))
labels = alt.Chart(callout_text).mark_text(
    font=FONT, fontSize=19, fontWeight="bold", color="black"
).encode(x=X("x:Q"), y=YL("y:Q"), text="t:N")

temp_lines = alt.Chart(temp_df).mark_line(color="#a0a0a0", strokeWidth=1).encode(
    x=X("x:Q"), y=YL("y:Q"), detail="series:N", order="idx:Q")
temp_points = alt.Chart(temp_df).mark_circle(
    size=150, opacity=1, stroke="#262626", strokeWidth=1
).encode(x=X("x:Q"), y=YL("y:Q"),
         color=alt.Color("series:N", scale=alt.Scale(domain=SERIES, range=COLORS), legend=None))

title1 = alt.Chart(pd.DataFrame({"a": [0]})).mark_text(
    font=FONT, fontSize=28, fontWeight="bold", color="black", baseline="middle"
).encode(x=alt.value(617), y=alt.value(-64),
         text=alt.value("Biltong Temperature & Relative Humidity Measurements for"))
title2 = alt.Chart(pd.DataFrame({"a": [0]})).mark_text(
    font=FONT, fontSize=27, fontWeight="bold", fontStyle="italic", color="black", baseline="middle"
).encode(x=alt.value(616), y=alt.value(-25), text=alt.value("Staphylococcus aureus"))

left = alt.layer(outer, vgrid, hgrid, shadow, boxes, pointers, gaps, labels,
                 temp_lines, temp_points, title1, title2)

rh_lines = alt.Chart(rh_df).mark_line(color="#a29d8a", strokeWidth=1).encode(
    x=X("x:Q"), y=YR("y:Q"), order="idx:Q")
rh_points = alt.Chart(rh_df).mark_circle(
    size=150, opacity=1, color="#ff00ff", stroke="#262626", strokeWidth=1
).encode(x=X("x:Q"), y=YR("y:Q"))
right = alt.layer(rh_lines, rh_points)

chart = alt.layer(left, right).resolve_scale(y="independent").properties(
    width=1255, height=749,
    autosize=alt.AutoSizeParams(type="none"),
    padding={"left": 179, "top": 113, "right": 180, "bottom": 124},
).configure(background="white").configure_view(stroke="black", strokeWidth=2)

chart.save("out.html", embed_options={"renderer": "svg", "actions": False})
